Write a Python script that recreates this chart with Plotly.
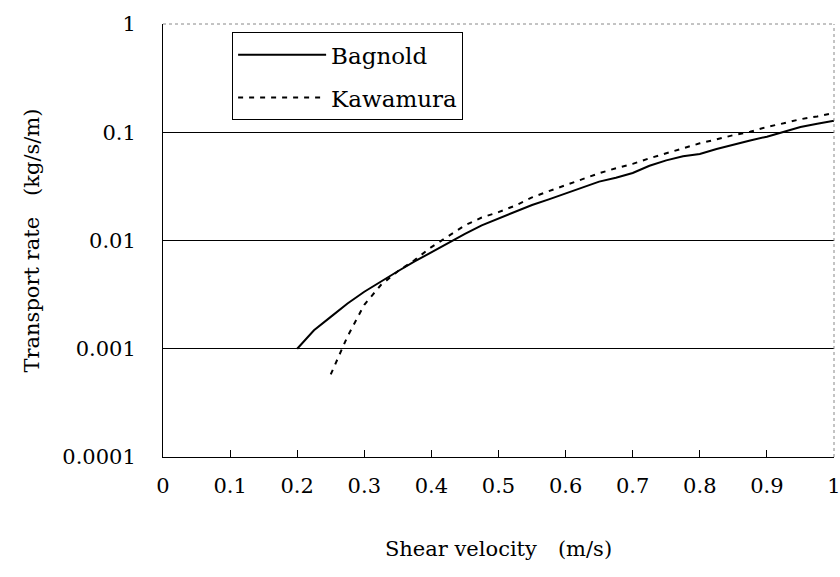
import plotly.graph_objects as go

# Shear velocity (m/s) and transport rate (kg/s/m)
bagnold_x = [0.20, 0.225, 0.25, 0.275, 0.30, 0.325, 0.35, 0.375, 0.40, 0.425,
             0.45, 0.475, 0.50, 0.525, 0.55, 0.575, 0.60, 0.625, 0.65, 0.675,
             0.70, 0.725, 0.75, 0.775, 0.80, 0.825, 0.85, 0.875, 0.90, 0.925,
             0.95, 0.975, 1.00]
bagnold_y = [0.00100, 0.00148, 0.00197, 0.00262, 0.00336, 0.0042, 0.0052, 0.0064, 0.0078, 0.0096,
             0.0115, 0.0138, 0.0160, 0.0185, 0.0213, 0.0240, 0.0272, 0.031, 0.035, 0.038,
             0.042, 0.049, 0.055, 0.060, 0.063, 0.070, 0.077, 0.084, 0.091, 0.101,
             0.112, 0.120, 0.128]

kawamura_x = [0.25, 0.275, 0.30, 0.325, 0.35, 0.375, 0.40, 0.425, 0.45, 0.475,
              0.50, 0.525, 0.55, 0.575, 0.60, 0.625, 0.65, 0.675, 0.70, 0.725,
              0.75, 0.775, 0.80, 0.825, 0.85, 0.875, 0.90, 0.925, 0.95, 0.975, 1.00]
kawamura_y = [0.00058, 0.0013, 0.00255, 0.0039, 0.0052, 0.0066, 0.0087, 0.0110, 0.0138, 0.0163,
              0.0183, 0.021, 0.0250, 0.0286, 0.0325, 0.0367, 0.0418, 0.0465, 0.051, 0.0575,
              0.064, 0.071, 0.079, 0.086, 0.094, 0.101, 0.112, 0.121, 0.132, 0.140, 0.151]

x_ticks = [0, 0.1, 0.2, 0.3, 0.4, 0.5, 0.6, 0.7, 0.8, 0.9, 1]
x_tick_labels = ["0", "0.1", "0.2", "0.3", "0.4", "0.5", "0.6", "0.7", "0.8", "0.9", "1"]
y_ticks = [0.0001, 0.001, 0.01, 0.1, 1]
y_tick_labels = ["0.0001", "0.001", "0.01", "0.1", "1"]

FONT = "DejaVu Serif"

fig = go.Figure()
fig.add_trace(go.Scatter(x=bagnold_x, y=bagnold_y, mode="lines", name="Bagnold",
                         legendgroup="a",
                         line=dict(color="black", width=2)))
fig.add_trace(go.Scatter(x=kawamura_x, y=kawamura_y, mode="lines", name="Kawamura",
                         legendgroup="b",
                         line=dict(color="black", width=2, dash="5px,6px")))

fig.update_layout(
    width=840, height=577,
    margin=dict(l=163, r=6, t=24, b=120),
    paper_bgcolor="white", plot_bgcolor="white",
    font=dict(family=FONT, size=21, color="black"),
    showlegend=True,
    legend=dict(x=0.103, y=0.981, xanchor="left", yanchor="top",
                bordercolor="black", borderwidth=1, bgcolor="white",
                font=dict(family=FONT, size=23, color="black"),
                tracegroupgap=10, itemwidth=88),
    xaxis=dict(range=[0, 1], tickvals=x_ticks, ticktext=x_tick_labels,
               ticks="inside", ticklen=7, tickcolor="black",
               showgrid=False, zeroline=False,
               showline=True, linecolor="black", linewidth=1,
               ticklabelstandoff=10, ticklabeloverflow="allow",
               automargin=False,
               title=dict(text="Shear velocity\u3000(m/s)", standoff=44,
                          font=dict(family=FONT, size=21))),
    yaxis=dict(type="log", range=[-4, 0], tickvals=y_ticks, ticktext=y_tick_labels,
               ticks="inside", ticklen=5, tickcolor="black",
               showgrid=True, gridcolor="black", gridwidth=1,
               zeroline=False, automargin=False,
               showline=True, linecolor="black", linewidth=1,
               ticklabelstandoff=22,
               title=dict(text="Transport rate\u3000(kg/s/m)", standoff=16,
                          font=dict(family=FONT, size=21))),
)

# dotted grey frame on top and right
fig.add_shape(type="line", xref="paper", yref="paper", x0=0, x1=1, y0=1, y1=1,
              line=dict(color="#888888", width=1, dash="dot"))
fig.add_shape(type="line", xref="paper", yref="paper", x0=1, x1=1, y0=0, y1=1,
              line=dict(color="#888888", width=1, dash="dot"))

fig.write_html("out.html")
